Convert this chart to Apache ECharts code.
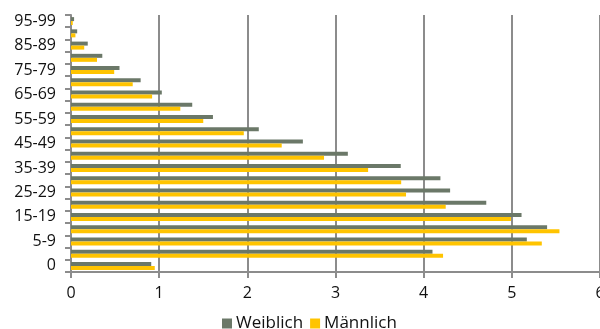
<!DOCTYPE html>
<html>
<head>
<meta charset="utf-8">
<script src="https://cdn.jsdelivr.net/npm/echarts@6/dist/echarts.min.js"></script>
<style>
  html, body { margin: 0; padding: 0; background: #fff; }
  #chart { width: 600px; height: 329px; }
</style>
</head>
<body>
<div id="chart"></div>
<script>
// age groups, bottom to top
var ageGroups = ['0', '1-4', '5-9', '10-14', '15-19', '20-24', '25-29', '30-34', '35-39', '40-44',
  '45-49', '50-54', '55-59', '60-64', '65-69', '70-74', '75-79', '80-84', '85-89', '90-94', '95-99']

// share of population in percent
var weiblich = [0.91, 4.10, 5.17, 5.40, 5.11, 4.71, 4.30, 4.19, 3.74, 3.14,
  2.63, 2.13, 1.61, 1.375, 1.03, 0.79, 0.55, 0.355, 0.19, 0.07, 0.035]
var maennlich = [0.95, 4.22, 5.34, 5.54, 4.99, 4.25, 3.80, 3.745, 3.37, 2.87,
  2.39, 1.96, 1.50, 1.24, 0.92, 0.70, 0.49, 0.295, 0.15, 0.05, 0.02]

var xTicks = [0, 1, 2, 3, 4, 5, 6]

var gridColor = '#8c8c8c'
var font = 'Open Sans'

var chart = echarts.init(document.getElementById('chart'))
chart.setOption({
  animation: false,
  title: {
    text: 'Altersverteilung (in Prozent)',
    left: 0,
    top: -22.5,
    textStyle: { fontFamily: font, fontSize: 17, fontWeight: 'bold', color: '#5b6a3c' }
  },
  grid: {
    left: 71,
    right: 0,
    top: 15,
    bottom: 57,
    containLabel: false,
    outerBoundsMode: 'none'
  },
  legend: {
    data: ['Weiblich', 'Männlich'],
    bottom: -8,
    left: 217,
    icon: 'rect',
    itemWidth: 10,
    itemHeight: 10,
    itemGap: 7,
    textStyle: { fontFamily: font, fontSize: 17, color: '#111', padding: [0, 0, 0, -1] }
  },
  xAxis: {
    type: 'value',
    min: xTicks[0],
    max: xTicks[xTicks.length - 1],
    interval: 1,
    axisLine: { show: true, lineStyle: { color: gridColor, width: 2 } },
    axisTick: { show: true, length: 6, lineStyle: { color: gridColor, width: 2 } },
    axisLabel: { fontFamily: font, fontSize: 16, color: '#111', margin: 13 },
    splitLine: { show: true, lineStyle: { color: gridColor, width: 2 } }
  },
  yAxis: {
    type: 'category',
    data: ageGroups,
    axisLine: { show: true, lineStyle: { color: gridColor, width: 2 } },
    axisTick: { show: true, interval: 0, length: 6, lineStyle: { color: gridColor, width: 2 } },
    axisLabel: { interval: 1, fontFamily: font, fontSize: 16, color: '#111', margin: 15 },
    splitLine: { show: false }
  },
  series: [
    {
      name: 'Weiblich',
      type: 'bar',
      data: weiblich,
      barWidth: 4,
      barGap: '0%',
      itemStyle: { color: '#6b7868' }
    },
    {
      name: 'Männlich',
      type: 'bar',
      data: maennlich,
      barWidth: 4,
      barGap: '0%',
      itemStyle: { color: '#ffc400' }
    }
  ]
})
</script>
</body>
</html>
